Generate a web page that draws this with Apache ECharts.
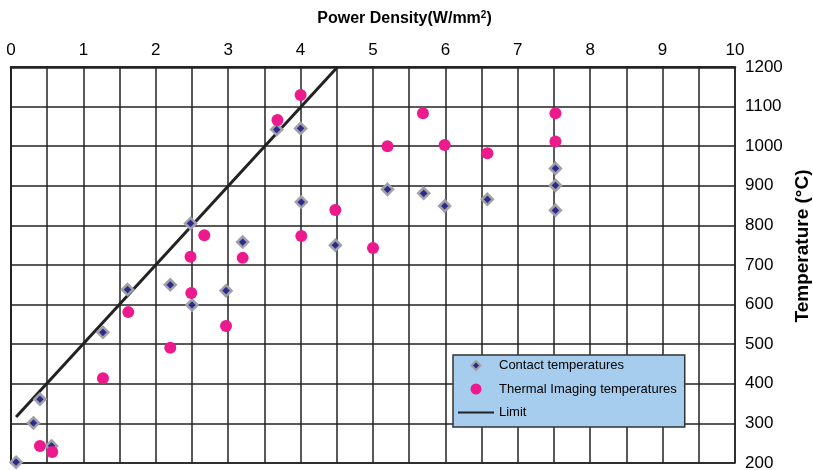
<!DOCTYPE html>
<html><head><meta charset="utf-8">
<script src="https://cdn.jsdelivr.net/npm/echarts@6/dist/echarts.min.js"></script>
<style>html,body{margin:0;padding:0;background:#fff}#c{width:813px;height:470px}</style>
</head><body><div id="c"></div>
<script>
const xTicks = [0,1,2,3,4,5,6,7,8,9,10];
const yTicks = [200,300,400,500,600,700,800,900,1000,1100,1200];
const contactX = [0.07,0.31,0.40,0.56,1.27,1.61,2.20,2.48,2.50,2.97,3.20,3.67,4.00,4.01,4.48,5.20,5.70,5.99,6.58,7.52,7.52,7.52];
const contactY = [202,301,361,243,530,638,650,805,599,635,758,1042,1045,859,750,891,881,849,866,944,901,838];
const thermalX = [0.40,0.57,1.27,1.62,2.20,2.48,2.67,2.49,2.97,3.20,4.01,4.48,5.00,3.68,4.00,5.20,5.69,5.99,6.58,7.52,7.52];
const thermalY = [243,228,414,581,491,721,775,629,546,718,773,839,743,1066,1129,1000,1083,1003,982,1083,1012];
const limitX = [0.07,4.51];
const limitY = [316,1200];
const zip = (a,b)=>a.map((v,i)=>[v,b[i]]);
const font = 'Liberation Sans, Arial, sans-serif';
const diamondIcon = 'path://M0,0L0,0M36,11L36,11M13.5,5.5L18,1L22.5,5.5L18,10Z';
const chart = echarts.init(document.getElementById('c'));
chart.setOption({
  animation:false,
  textStyle:{fontFamily:font},
  grid:{left:11,right:78,top:67,bottom:7,containLabel:false,outerBoundsMode:'none',show:true,borderColor:'#222',borderWidth:1.5},
  xAxis:{type:'value',position:'top',min:0,max:10,interval:0.5,
    name:'Power Density(W/mm{s|2})',nameLocation:'middle',nameGap:40,
    nameTextStyle:{fontSize:16,fontWeight:'bold',color:'#000',fontFamily:font,padding:[0,0,0,63],
      rich:{s:{fontSize:10,fontWeight:'bold',verticalAlign:'top',padding:[0,0,7,0],color:'#000'}}},
    axisLine:{lineStyle:{color:'#222',width:2.5}},
    axisTick:{show:false},
    axisLabel:{fontSize:17,color:'#000',margin:8,formatter:v=>(xTicks.includes(v)?String(v):'')},
    splitLine:{lineStyle:{color:'#222',width:1.5}}},
  yAxis:{type:'value',position:'right',min:200,max:1200,interval:100,
    name:'Temperature (°C)',nameLocation:'middle',nameGap:57,nameRotate:90,
    nameTextStyle:{fontSize:19,fontWeight:'bold',color:'#000',fontFamily:font,padding:[0,0,0,38]},
    axisLine:{show:true,lineStyle:{color:'#222',width:2}},
    axisTick:{show:false},
    axisLabel:{fontSize:17,color:'#000',margin:10,padding:[0,0,6,0],formatter:v=>(yTicks.includes(v)?String(v):'')},
    splitLine:{lineStyle:{color:'#222',width:1.5}}},
  legend:{left:453,top:355,orient:'vertical',backgroundColor:'#a6cdee',borderColor:'#333',borderWidth:1.5,
    padding:[4,8,8,4],itemGap:10.5,itemWidth:36,itemHeight:11,
    textStyle:{fontSize:13,color:'#000',fontFamily:font},
    data:[
      {name:'Contact temperatures',icon:diamondIcon,itemStyle:{color:'#2b2b8c',borderColor:'#a0a0a8',borderWidth:2}},
      {name:'Thermal Imaging temperatures',icon:'circle',itemStyle:{color:'#ec1a8c'}},
      {name:'Limit',itemStyle:{opacity:0}}
    ]},
  series:[
    {name:'Limit',type:'line',data:zip(limitX,limitY),symbol:'none',lineStyle:{color:'#222',width:3},itemStyle:{color:'#222'},z:3},
    {name:'Contact temperatures',type:'scatter',symbol:'diamond',symbolSize:11,data:zip(contactX,contactY),
      itemStyle:{color:'#2b2b8c',borderColor:'#a0a0a8',borderWidth:2.5,opacity:1},z:4},
    {name:'Thermal Imaging temperatures',type:'scatter',symbol:'circle',symbolSize:12,data:zip(thermalX,thermalY),
      itemStyle:{color:'#ec1a8c',opacity:1},z:5}
  ]
});
</script></body></html>
